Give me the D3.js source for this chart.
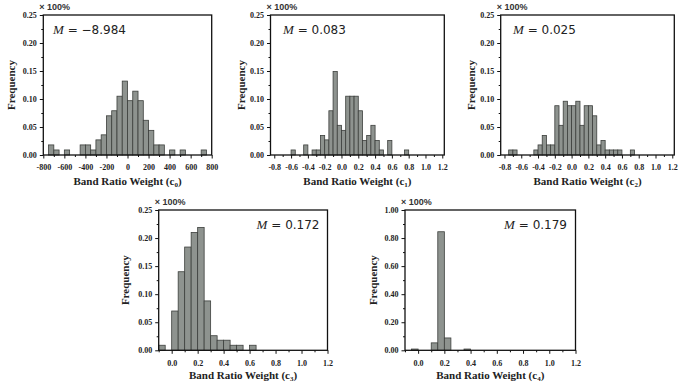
<!DOCTYPE html>
<html>
<head>
<meta charset="utf-8">
<script src="https://cdn.jsdelivr.net/npm/d3@7"></script>
<style>
  body { margin: 0; background: #fff; }
  .tick text { font-family: "Liberation Serif", serif; font-weight: bold; font-size: 8px; fill: #222; }
  .tick line { stroke: #111; stroke-width: 1; }
</style>
</head>
<body>
<svg id="chart" width="680" height="383"></svg>
<script>
// left edge of each bar and its frequency
const c0Bins = [-750, -700, -600, -450, -400, -350, -300, -250, -200, -150, -100, -50, 0, 50, 100, 150, 200, 250, 300, 400, 500, 700];
const c0Freq = [0.018, 0.009, 0.009, 0.018, 0.018, 0.009, 0.027, 0.036, 0.070, 0.079, 0.105, 0.132, 0.097, 0.114, 0.097, 0.062, 0.044, 0.018, 0.018, 0.009, 0.009, 0.009];
const c1Bins = [-0.6, -0.45, -0.35, -0.3, -0.25, -0.2, -0.15, -0.1, -0.05, 0, 0.05, 0.1, 0.15, 0.2, 0.25, 0.3, 0.35, 0.4, 0.45, 0.55, 0.75];
const c1Freq = [0.009, 0.018, 0.009, 0.009, 0.035, 0.027, 0.079, 0.149, 0.053, 0.044, 0.105, 0.105, 0.105, 0.079, 0.026, 0.035, 0.053, 0.026, 0.009, 0.026, 0.009];
const c2Bins = [-0.75, -0.7, -0.45, -0.4, -0.35, -0.3, -0.25, -0.2, -0.15, -0.1, -0.05, 0, 0.05, 0.1, 0.15, 0.2, 0.25, 0.3, 0.35, 0.4, 0.45, 0.5, 0.55, 0.7];
const c2Freq = [0.009, 0.009, 0.009, 0.018, 0.035, 0.018, 0.018, 0.088, 0.053, 0.096, 0.088, 0.088, 0.096, 0.053, 0.088, 0.088, 0.070, 0.018, 0.026, 0.009, 0.009, 0.009, 0.009, 0.009];
const c3Bins = [-0.1, 0, 0.05, 0.1, 0.15, 0.2, 0.25, 0.3, 0.35, 0.4, 0.45, 0.5, 0.6];
const c3Freq = [0.009, 0.070, 0.140, 0.184, 0.210, 0.219, 0.088, 0.026, 0.018, 0.018, 0.009, 0.009, 0.009];
const c4Bins = [-0.05, 0.1, 0.15, 0.2, 0.35];
const c4Freq = [0.009, 0.053, 0.845, 0.088, 0.009];
const means = ['\u22128.984', '0.083', '0.025', '0.172', '0.179'];

// tick labels
const yTicksSmall = [0, 0.05, 0.10, 0.15, 0.20, 0.25];
const yTicksBig = [0, 0.2, 0.4, 0.6, 0.8, 1.0];
const xTicksC0 = [-800, -600, -400, -200, 0, 200, 400, 600, 800];
const xTicksWide = [-0.8, -0.6, -0.4, -0.2, 0, 0.2, 0.4, 0.6, 0.8, 1.0, 1.2];
const xTicksPos = [0, 0.2, 0.4, 0.6, 0.8, 1.0, 1.2];

const panels = [
  { bins: c0Bins, freq: c0Freq, bw: 50, sub: '0', xDom: [-800, 800], xRange: [43.3, 211.7], top: 15, bottom: 155,
    xTicks: xTicksC0, xFmt: d => String(d), yTicks: yTicksSmall, labelX: 14.5, mX: 53, mAnchor: 'start', pad: 6, titleY: 30 },
  { bins: c1Bins, freq: c1Freq, bw: 0.05, sub: '1', xDom: [-0.845, 1.224], xRange: [270.5, 444.3], top: 15, bottom: 155,
    xTicks: xTicksWide, xFmt: d => d.toFixed(1), yTicks: yTicksSmall, labelX: 245, mX: 283, mAnchor: 'start', pad: 6, titleY: 30 },
  { bins: c2Bins, freq: c2Freq, bw: 0.05, sub: '2', xDom: [-0.845, 1.224], xRange: [500.7, 674.3], top: 15, bottom: 155,
    xTicks: xTicksWide, xFmt: d => d.toFixed(1), yTicks: yTicksSmall, labelX: 475, mX: 513, mAnchor: 'start', pad: 6, titleY: 30 },
  { bins: c3Bins, freq: c3Freq, bw: 0.05, sub: '3', xDom: [-0.1, 1.2], xRange: [158.7, 327.5], top: 210, bottom: 350.3,
    xTicks: xTicksPos, xFmt: d => d.toFixed(1), yTicks: yTicksSmall, labelX: 128.5, mX: 319.5, mAnchor: 'end', pad: 6.5, titleY: 28.5 },
  { bins: c4Bins, freq: c4Freq, bw: 0.05, sub: '4', xDom: [-0.1, 1.2], xRange: [405, 575.5], top: 210, bottom: 350.3,
    xTicks: xTicksPos, xFmt: d => d.toFixed(1), yTicks: yTicksBig, labelX: 377, mX: 567, mAnchor: 'end', pad: 6.5, titleY: 28.5 }
];

const svg = d3.select('#chart');

panels.forEach((p, i) => {
  const x = d3.scaleLinear().domain(p.xDom).range(p.xRange);
  const y = d3.scaleLinear().domain([0, p.yTicks[p.yTicks.length - 1]]).range([p.bottom, p.top]);
  const g = svg.append('g');

  // bars
  g.append('g')
    .selectAll('rect')
    .data(p.bins.map((b, j) => ({ x0: b, f: p.freq[j] })))
    .join('rect')
    .attr('x', d => x(d.x0))
    .attr('y', d => y(d.f))
    .attr('width', d => x(d.x0 + p.bw) - x(d.x0))
    .attr('height', d => y(0) - y(d.f))
    .attr('fill', '#8e938f')
    .attr('stroke', '#3c3f3c')
    .attr('stroke-width', 0.8);

  // minor ticks halfway between the labelled ones
  const mid = arr => arr.slice(1).map((v, k) => (v + arr[k]) / 2);
  const xMinor = mid(p.xTicks);
  if (p.xDom[0] < p.xTicks[0]) xMinor.unshift(p.xTicks[0] - (p.xTicks[1] - p.xTicks[0]) / 2);
  const xMinorIn = xMinor.filter(v => v >= p.xDom[0] - 1e-9);

  g.append('g')
    .attr('transform', `translate(0,${p.bottom})`)
    .call(d3.axisBottom(x).tickValues(xMinorIn).tickSize(2).tickFormat(''))
    .call(a => a.select('.domain').remove());
  g.append('g')
    .attr('transform', `translate(0,${p.bottom})`)
    .call(d3.axisBottom(x).tickValues(p.xTicks).tickSize(3.5).tickPadding(p.pad).tickFormat(p.xFmt))
    .call(a => a.select('.domain').remove());

  g.append('g')
    .attr('transform', `translate(${p.xRange[0]},0)`)
    .call(d3.axisLeft(y).tickValues(mid(p.yTicks)).tickSize(2).tickFormat(''))
    .call(a => a.select('.domain').remove());
  g.append('g')
    .attr('transform', `translate(${p.xRange[0]},0)`)
    .call(d3.axisLeft(y).tickValues(p.yTicks).tickSize(3.5).tickPadding(3)
      .tickFormat(d => d.toFixed(2)))
    .call(a => a.select('.domain').remove());

  // frame
  g.append('rect')
    .attr('x', p.xRange[0])
    .attr('y', p.top)
    .attr('width', p.xRange[1] - p.xRange[0])
    .attr('height', p.bottom - p.top)
    .attr('fill', 'none')
    .attr('stroke', '#111')
    .attr('stroke-width', 1.3);

  // "× 100%" unit note
  g.append('text')
    .attr('x', p.xRange[0] - 4)
    .attr('y', p.top - 5)
    .attr('font-family', 'Liberation Sans, Arial, sans-serif')
    .attr('font-weight', 'bold')
    .attr('font-size', 9)
    .attr('fill', '#333')
    .text('\u00d7 100%');

  // y label
  g.append('text')
    .attr('transform', `translate(${p.labelX},${(p.top + p.bottom) / 2}) rotate(-90)`)
    .attr('text-anchor', 'middle')
    .attr('font-family', 'Liberation Serif, serif')
    .attr('font-weight', 'bold')
    .attr('font-size', 11)
    .attr('fill', '#222')
    .text('Frequency');

  // x label with subscript
  const xl = g.append('text')
    .attr('x', (p.xRange[0] + p.xRange[1]) / 2)
    .attr('y', p.bottom + p.titleY)
    .attr('text-anchor', 'middle')
    .attr('font-family', 'Liberation Serif, serif')
    .attr('font-weight', 'bold')
    .attr('font-size', 11)
    .attr('fill', '#222');
  xl.append('tspan').text('Band Ratio Weight (c');
  xl.append('tspan').attr('font-size', 7).attr('dy', 2).text(p.sub);
  xl.append('tspan').attr('dy', -2).text(')');

  // mean annotation
  const mt = g.append('text')
    .attr('x', p.mX)
    .attr('y', p.top + 19)
    .attr('text-anchor', p.mAnchor)
    .attr('font-size', 12)
    .attr('fill', '#222');
  mt.append('tspan').attr('font-family', 'Liberation Serif, serif').attr('font-style', 'italic').attr('font-size', 13).text('M');
  mt.append('tspan').attr('font-family', 'DejaVu Sans, sans-serif').text(' = ' + means[i]);
});
</script>
</body>
</html>
